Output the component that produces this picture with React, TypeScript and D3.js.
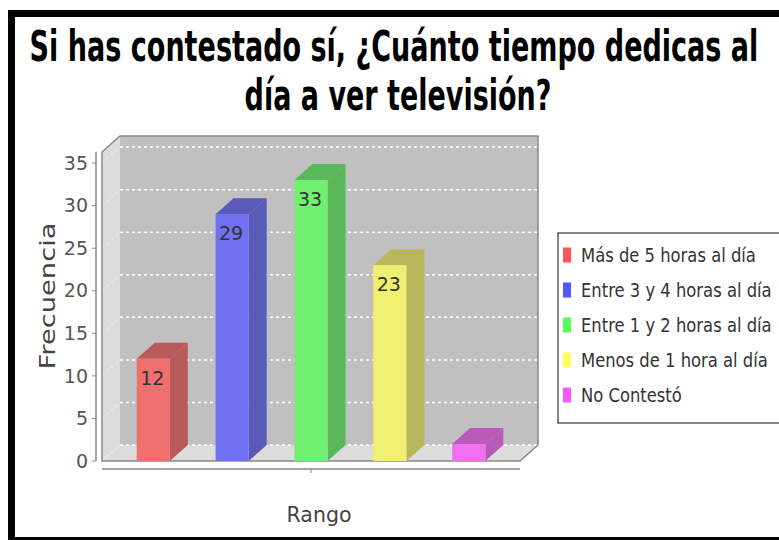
import React, { useLayoutEffect, useRef, useState } from 'react';
import * as d3 from 'd3';

const categories = [
    'Más de 5 horas al día',
    'Entre 3 y 4 horas al día',
    'Entre 1 y 2 horas al día',
    'Menos de 1 hora al día',
    'No Contestó',
];
const values = [12, 29, 33, 23, 2];
const frontColors = ['#f07070', '#7070f0', '#70f070', '#f0f070', '#f070f0'];
const sideColors = ['#b85a5a', '#5a5ab8', '#5ab85a', '#b8b85a', '#b85ab8'];
const legendColors = ['#ff5555', '#5555ff', '#55ff55', '#ffff55', '#ff55ff'];
const yTicks = [0, 5, 10, 15, 20, 25, 30, 35];

const titleLines = ['Si has contestado sí, ¿Cuánto tiempo dedicas al', 'día a ver televisión?'];

// text squeezed horizontally to a given width (the source image is condensed)
const FitText = ({ transform, width, fontSize, fill, fontWeight, children }: any) => {
    const ref = useRef<SVGTextElement>(null);
    const [sx, setSx] = useState(1);
    useLayoutEffect(() => {
        if (ref.current) {
            const len = ref.current.getComputedTextLength();
            if (len > 0) setSx(width / len);
        }
    }, [width]);
    return (
        <g transform={transform}>
            <text ref={ref} transform={`scale(${sx},1)`} textAnchor="middle" fontSize={fontSize}
                fontWeight={fontWeight} fill={fill}>{children}</text>
        </g>
    );
};

const App = () => {
    const width = 779;
    const height = 540;
    const left = 102;
    const right = 520;
    const dx = 18;
    const dy = -16;

    const x = d3.scaleBand<string>()
        .domain(categories)
        .range([left, right])
        .paddingInner(0.58)
        .paddingOuter(0.44);

    const y = d3.scaleLinear()
        .domain([0, 36.3])
        .range([461, 152]);

    const y0 = y(0);
    const yTop = y(36.3);
    const pts = (p: number[][]) => p.map(d => d.join(',')).join(' ');

    return (
        <svg width={width} height={height} style={{ position: 'absolute', left: 0, top: 0 }}
            fontFamily="'DejaVu Sans', sans-serif">
            <rect x={0} y={0} width={width} height={height} fill="#fff" />
            <path d="M11.5,540V13.5H779" fill="none" stroke="#000" strokeWidth={7} />
            <line x1={8} x2={779} y1={538.5} y2={538.5} stroke="#000" strokeWidth={3} />

            {/* title */}
            <FitText transform="translate(394,61)" width={729} fontSize={42} fontWeight="bold" fill="#000">{titleLines[0]}</FitText>
            <FitText transform="translate(398,110)" width={307} fontSize={42} fontWeight="bold" fill="#000">{titleLines[1]}</FitText>

            {/* walls */}
            <polygon points={pts([[left + dx, yTop + dy], [right + dx, yTop + dy], [right + dx, y0 + dy], [left + dx, y0 + dy]])} fill="#c0c0c0" />
            <polygon points={pts([[left, yTop], [left + dx, yTop + dy], [left + dx, y0 + dy], [left, y0]])} fill="#dcdcdc" />
            <polygon points={pts([[left, y0], [left + dx, y0 + dy], [right + dx, y0 + dy], [right, y0]])} fill="#dcdcdc" />

            {yTicks.map(t => (
                <g key={t}>
                    <line x1={left + dx} x2={right + dx} y1={y(t) + dy} y2={y(t) + dy}
                        stroke="#fff" strokeWidth={1.5} strokeDasharray="3,3" />
                    <line x1={left} x2={left + dx} y1={y(t)} y2={y(t) + dy}
                        stroke="#fff" strokeWidth={1} strokeDasharray="3,3" opacity={0.7} />
                </g>
            ))}

            <path d={`M${left},${y0}L${left},${yTop}L${left + dx},${yTop + dy}L${right + dx},${yTop + dy}L${right + dx},${y0 + dy}L${right},${y0}Z`}
                fill="none" stroke="#888" strokeWidth={1.5} />

            {/* bars */}
            {categories.map((c, i) => {
                const x0 = x(c) as number;
                const w = x.bandwidth();
                const top = y(values[i]);
                return (
                    <g key={c}>
                        <polygon points={pts([[x0 + w, top], [x0 + w + dx, top + dy], [x0 + w + dx, y0 + dy], [x0 + w, y0]])} fill={sideColors[i]} />
                        <polygon points={pts([[x0, top], [x0 + dx, top + dy], [x0 + w + dx, top + dy], [x0 + w, top]])} fill={sideColors[i]} />
                        <rect x={x0} y={top} width={w} height={y0 - top} fill={frontColors[i]} />
                        {y0 - top > 30 && (
                            <text x={x0 + w / 2 - 1} y={top + 26} textAnchor="middle" fontSize={19} fill="#333">{values[i]}</text>
                        )}
                    </g>
                );
            })}

            {/* value axis */}
            <line x1={96} x2={96} y1={yTop} y2={y0} stroke="#888" strokeWidth={1.5} />
            {yTicks.map(t => (
                <g key={t}>
                    <line x1={92} x2={96} y1={y(t)} y2={y(t)} stroke="#888" />
                    <text x={88} y={y(t)} dy="0.35em" textAnchor="end" fontSize={19} fill="#555">{t}</text>
                </g>
            ))}
            <FitText transform="translate(55,296) rotate(-90)" width={147} fontSize={22} fill="#444">Frecuencia</FitText>

            {/* category axis */}
            <line x1={left} x2={right} y1={469} y2={469} stroke="#888" strokeWidth={1.5} />
            <line x1={(left + right) / 2} x2={(left + right) / 2} y1={469} y2={473} stroke="#888" />
            <FitText transform="translate(319,522)" width={65} fontSize={22} fill="#444">Rango</FitText>

            {/* legend */}
            <rect x={558} y={233} width={240} height={190} fill="#fff" stroke="#333" strokeWidth={1.2} />
            {categories.map((c, i) => {
                const cy = 255 + i * 35;
                return (
                    <g key={c}>
                        <rect x={563} y={cy - 7.5} width={8} height={15} fill={legendColors[i]} />
                        <g transform={`translate(581,${cy + 7}) scale(0.82,1)`}>
                            <text x={0} y={0} fontSize={20} fill="#333">{c}</text>
                        </g>
                    </g>
                );
            })}
        </svg>
    );
};

export default App;
